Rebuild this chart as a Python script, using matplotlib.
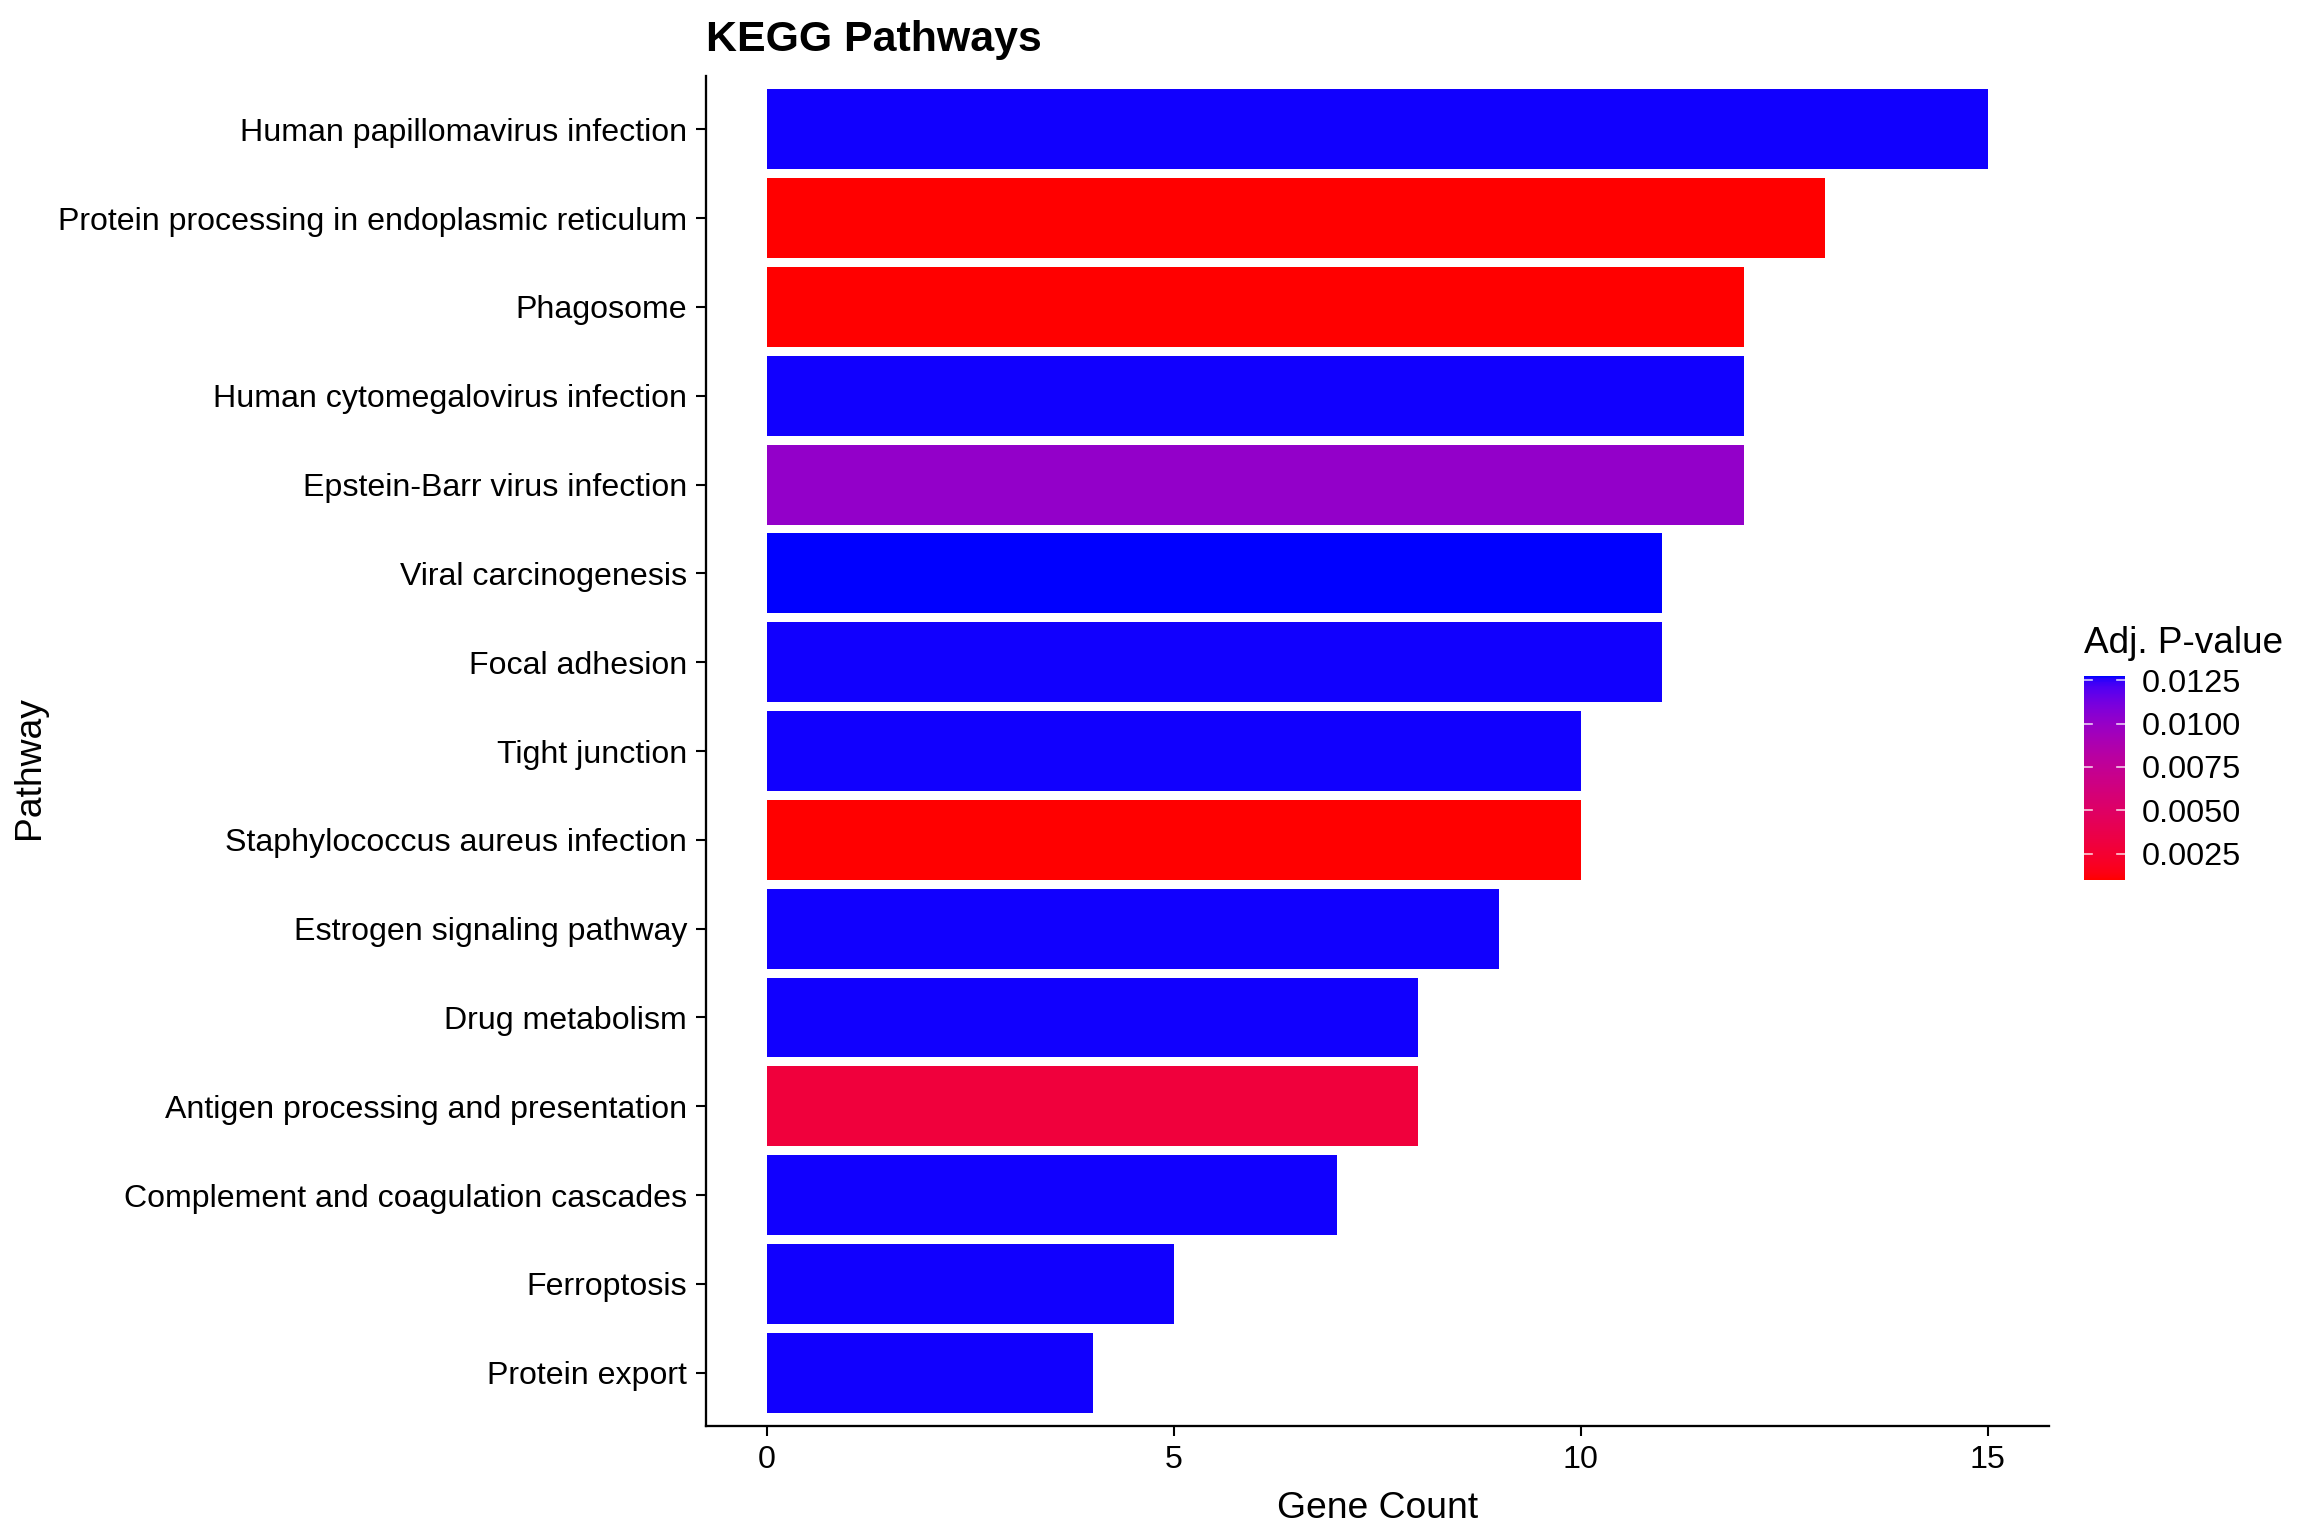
import numpy as np
import matplotlib
matplotlib.use("Agg")
import matplotlib.pyplot as plt
from matplotlib.colors import ListedColormap, Normalize
from matplotlib.cm import ScalarMappable

plt.rcParams['font.family'] = ['Liberation Sans', 'DejaVu Sans']

# data (top to bottom as in the chart)
pathways = [
    "Human papillomavirus infection",
    "Protein processing in endoplasmic reticulum",
    "Phagosome",
    "Human cytomegalovirus infection",
    "Epstein-Barr virus infection",
    "Viral carcinogenesis",
    "Focal adhesion",
    "Tight junction",
    "Staphylococcus aureus infection",
    "Estrogen signaling pathway",
    "Drug metabolism",
    "Antigen processing and presentation",
    "Complement and coagulation cascades",
    "Ferroptosis",
    "Protein export",
]
gene_count = [15, 13, 12, 12, 12, 11, 11, 10, 10, 9, 8, 8, 7, 5, 4]
padj = [0.01267, 0.00100, 0.00098, 0.01267, 0.0101, 0.01275, 0.01267, 0.01267,
        0.00102, 0.01267, 0.01267, 0.0030, 0.01267, 0.01267, 0.01267]
cbar_ticks = [0.0025, 0.0050, 0.0075, 0.0100, 0.0125]


# red -> blue gradient interpolated in Lab space (like ggplot's scale_fill_gradient)
def srgb_to_lab(rgb):
    rgb = np.asarray(rgb, dtype=float)
    lin = np.where(rgb <= 0.04045, rgb / 12.92, ((rgb + 0.055) / 1.055) ** 2.4)
    M = np.array([[0.4124, 0.3576, 0.1805],
                  [0.2126, 0.7152, 0.0722],
                  [0.0193, 0.1192, 0.9505]])
    xyz = M @ lin / np.array([0.95047, 1.0, 1.08883])
    f = np.where(xyz > 0.008856, np.cbrt(xyz), 7.787 * xyz + 16 / 116)
    return np.array([116 * f[1] - 16, 500 * (f[0] - f[1]), 200 * (f[1] - f[2])])


def lab_to_srgb(lab):
    L, a, b = lab
    fy = (L + 16) / 116
    fx = fy + a / 500
    fz = fy - b / 200
    f = np.array([fx, fy, fz])
    xyz = np.where(f ** 3 > 0.008856, f ** 3, (f - 16 / 116) / 7.787)
    xyz = xyz * np.array([0.95047, 1.0, 1.08883])
    Minv = np.array([[3.2406, -1.5372, -0.4986],
                     [-0.9689, 1.8758, 0.0415],
                     [0.0557, -0.2040, 1.0570]])
    lin = Minv @ xyz
    lin = np.clip(lin, 0, 1)
    rgb = np.where(lin <= 0.0031308, 12.92 * lin, 1.055 * lin ** (1 / 2.4) - 0.055)
    return np.clip(rgb, 0, 1)


lab_lo = srgb_to_lab([1, 0, 0])
lab_hi = srgb_to_lab([0, 0, 1])
cols = [lab_to_srgb(lab_lo + t * (lab_hi - lab_lo)) for t in np.linspace(0, 1, 256)]
cmap = ListedColormap(cols)
norm = Normalize(vmin=min(padj), vmax=max(padj))

fig = plt.figure(figsize=(15.36, 10.24), dpi=150)
ax = fig.add_axes([0.3064, 0.0716, 0.8892 - 0.3064, 0.9505 - 0.0716])

ypos = np.arange(len(pathways))[::-1]
ax.barh(ypos, gene_count, height=0.9, color=cmap(norm(padj)))

ax.set_xlim(-0.75, 15.75)
ax.set_ylim(-0.6, len(pathways) - 0.4)
ax.set_yticks(ypos)
ax.set_yticklabels(pathways)
ax.set_xticks([0, 5, 10, 15])
ax.tick_params(labelsize=15.4, length=5, width=1, pad=4, colors='black')
for s in ['top', 'right']:
    ax.spines[s].set_visible(False)
for s in ['left', 'bottom']:
    ax.spines[s].set_linewidth(1.1)

ax.set_xlabel("Gene Count", fontsize=17.9, labelpad=8)
ax.set_ylabel("Pathway", fontsize=17.9)
ax.yaxis.set_label_coords(47 / 2304, 0.5, transform=fig.transFigure)
ax.set_title("KEGG Pathways", fontsize=20.6, fontweight='bold', loc='left', pad=12)

# colour bar
cax = fig.add_axes([2084 / 2304, 1 - 880 / 1536, 41 / 2304, 204 / 1536])
cb = fig.colorbar(ScalarMappable(norm=norm, cmap=cmap), cax=cax)
cb.outline.set_visible(False)
cb.set_ticks(cbar_ticks)
cb.set_ticklabels([f"{t:.4f}" for t in cbar_ticks])
cax.tick_params(length=0, labelsize=15.6, pad=8)
tr = cax.get_yaxis_transform()
for t in cbar_ticks:
    cax.plot([0, 0.2], [t, t], color='white', lw=0.8, alpha=0.8, transform=tr)
    cax.plot([0.8, 1], [t, t], color='white', lw=0.8, alpha=0.8, transform=tr)
fig.text(2084 / 2304, 1 - 653 / 1536, "Adj. P-value", fontsize=17.7, ha='left', va='baseline')

fig.savefig("out.png", dpi=150)
